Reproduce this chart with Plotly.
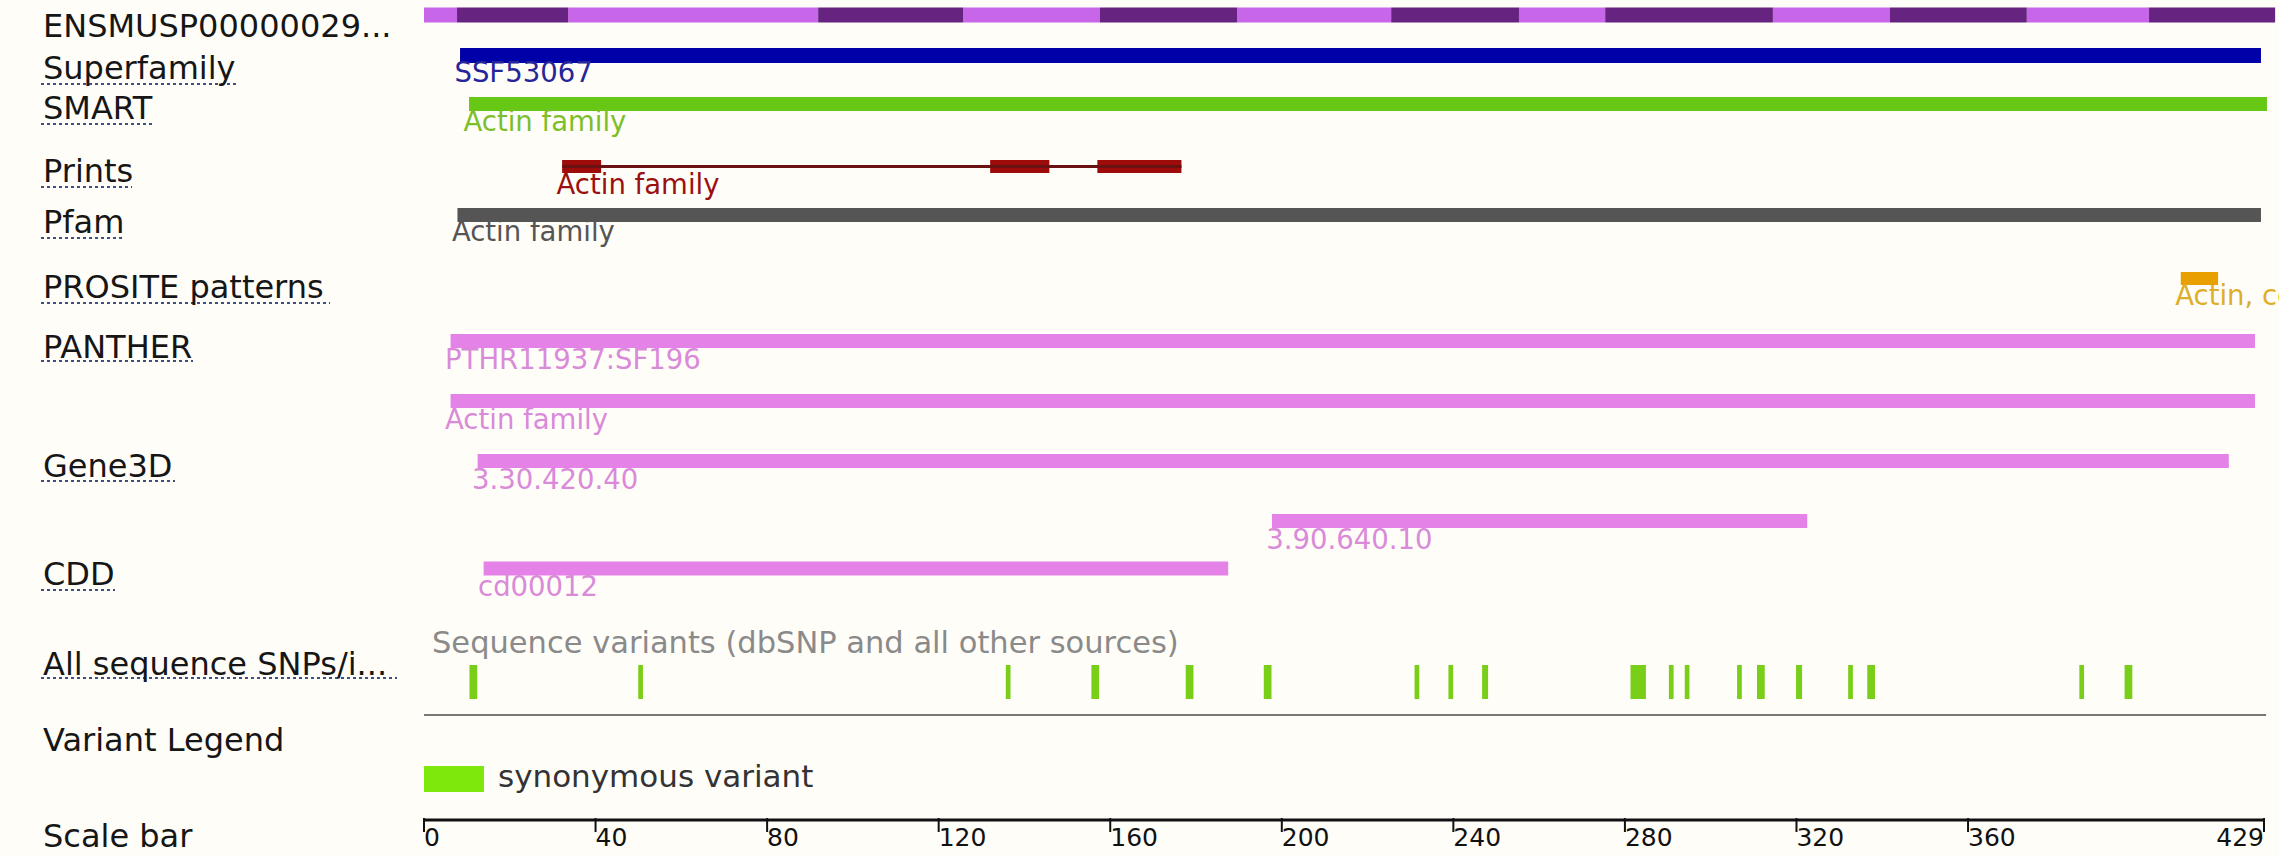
import plotly.graph_objects as go

# ---------------- data (residue coordinates) ----------------
protein_label = "ENSMUSP00000029..."
protein_length = 429
exon_bounds = [0, 7.7, 33.6, 91.9, 125.7, 157.6, 189.6, 225.5, 255.3, 275.4,
               314.5, 341.8, 373.7, 402.2, 431.6]

superfamily_start = [8.4]
superfamily_end = [428.3]
superfamily_names = ["SSF53067"]

smart_start = [10.5]
smart_end = [429.7]
smart_names = ["Actin family"]

prints_start = [32.2, 132.0, 157.0]
prints_end = [41.3, 145.8, 176.6]
prints_names = ["Actin family"]

pfam_start = [7.8]
pfam_end = [428.3]
pfam_names = ["Actin family"]

prosite_start = [409.6]
prosite_end = [418.3]
prosite_names = ["Actin, conserved site"]

panther_start = [6.2, 6.2]
panther_end = [426.9, 426.9]
panther_names = ["PTHR11937:SF196", "Actin family"]

gene3d_start = [12.5, 197.7]
gene3d_end = [420.8, 322.5]
gene3d_names = ["3.30.420.40", "3.90.640.10"]

cdd_start = [13.9]
cdd_end = [187.5]
cdd_names = ["cd00012"]

variant_pos = [11.5, 50.5, 136.2, 156.5, 178.5, 196.7, 231.5, 239.4, 247.4, 283.1,
               290.8, 294.5, 306.7, 311.7, 320.6, 332.6, 337.4, 386.5, 397.4]
variant_width = [1.8, 1.1, 1.1, 1.8, 1.8, 1.8, 1.1, 1.1, 1.4, 3.6,
                 1.1, 1.1, 1.1, 1.8, 1.4, 1.1, 1.8, 1.1, 1.8]

scale_ticks = [0, 40, 80, 120, 160, 200, 240, 280, 320, 360, 429]
scale_labels = [str(t) for t in scale_ticks]

track_labels = ["Superfamily", "SMART", "Prints", "Pfam", "PROSITE patterns",
                "PANTHER", "Gene3D", "CDD", "All sequence SNPs/i..."]

# ---------------- layout constants (pixels) ----------------
W, H = 2279, 857
X0_PX = 424.0
PX_PER_RES = 4.289
BG = "#fffdf8"
FONT = "DejaVu Sans"


def px2x(px):
    return (px - X0_PX) / PX_PER_RES


fig = go.Figure()


def add_bars(starts, ends, yc, thick, color):
    fig.add_trace(go.Bar(
        orientation="h", base=starts, x=[e - s for s, e in zip(starts, ends)],
        y=[yc] * len(starts), width=[thick] * len(starts),
        marker=dict(color=color, line=dict(width=0)), hoverinfo="skip"))


def add_label(xs, ys, texts, color, size=27.5):
    fig.add_trace(go.Scatter(
        x=xs, y=ys, text=texts, mode="text", textposition="middle right",
        textfont=dict(family=FONT, size=size, color=color),
        cliponaxis=True, hoverinfo="skip"))


# protein/exon track
ex_s = exon_bounds[:-1]
ex_e = exon_bounds[1:]
light = [i for i in range(len(ex_s)) if i % 2 == 0]
dark = [i for i in range(len(ex_s)) if i % 2 == 1]
add_bars([ex_s[i] for i in light], [ex_e[i] for i in light], 15, 15, "#c866ea")
add_bars([ex_s[i] for i in dark], [ex_e[i] for i in dark], 15, 15, "#66237f")

# Superfamily
add_bars(superfamily_start, superfamily_end, 55.5, 15, "#0000a8")
add_label([superfamily_start[0] - 1.3], [75], superfamily_names, "#26269a")

# SMART
add_bars(smart_start, smart_end, 104, 14, "#66c814")
add_label([smart_start[0] - 1.3], [124], smart_names, "#7cbf2a")

# Prints (linked blocks)
fig.add_trace(go.Scatter(x=[prints_start[0], prints_end[-1]], y=[166.5, 166.5],
                         mode="lines", line=dict(color="#6a1212", width=3),
                         hoverinfo="skip"))
add_bars(prints_start, prints_end, 166.5, 13, "#9e0b0b")
add_label([prints_start[0] - 1.3], [187], prints_names, "#9a1010")

# Pfam
add_bars(pfam_start, pfam_end, 215, 14, "#555555")
add_label([pfam_start[0] - 1.3], [234], pfam_names, "#555555")

# PROSITE
add_bars(prosite_start, prosite_end, 278.5, 13, "#e8a000")
add_label([prosite_start[0] - 1.3], [298], prosite_names, "#dcae2a")

# PANTHER
add_bars(panther_start[:1], panther_end[:1], 341, 14, "#e582e8")
add_bars(panther_start[1:], panther_end[1:], 401, 14, "#e582e8")
add_label([panther_start[0] - 1.3, panther_start[1] - 1.3], [362, 422],
          panther_names, "#d98ad9")

# Gene3D
add_bars(gene3d_start[:1], gene3d_end[:1], 461, 14, "#e582e8")
add_bars(gene3d_start[1:], gene3d_end[1:], 521, 14, "#e582e8")
add_label([gene3d_start[0] - 1.3, gene3d_start[1] - 1.3], [482, 542],
          gene3d_names, "#d98ad9")

# CDD
add_bars(cdd_start, cdd_end, 568.5, 14, "#e582e8")
add_label([cdd_start[0] - 1.3], [589], cdd_names, "#d98ad9")

# Variants
add_label([px2x(432)], [645], ["Sequence variants (dbSNP and all other sources)"],
          "#8a8a8a", size=30.5)
fig.add_trace(go.Bar(
    orientation="h", base=[p - w / 2 for p, w in zip(variant_pos, variant_width)],
    x=variant_width, y=[682] * len(variant_pos), width=[34] * len(variant_pos),
    marker=dict(color="#79cf18", line=dict(width=0)), hoverinfo="skip"))
fig.add_trace(go.Scatter(x=[0, protein_length + 0.5], y=[715, 715], mode="lines",
                         line=dict(color="#7a7a7a", width=2), hoverinfo="skip"))

# Variant legend
fig.add_shape(type="rect", xref="x", yref="y", x0=px2x(424), x1=px2x(484),
              y0=766, y1=792, fillcolor="#7ee80c", line=dict(width=0))
add_label([px2x(498)], [779], ["synonymous variant"], "#333333", size=31)

# Scale bar
fig.add_trace(go.Scatter(x=[scale_ticks[0], scale_ticks[-1]], y=[820, 820],
                         mode="lines", line=dict(color="#111111", width=3),
                         hoverinfo="skip"))
fig.add_trace(go.Scatter(x=scale_ticks, y=[825] * len(scale_ticks), mode="markers",
                         marker=dict(symbol="line-ns", size=10,
                                     line=dict(color="#111111", width=2)),
                         hoverinfo="skip"))
fig.add_trace(go.Scatter(
    x=scale_ticks, y=[840] * len(scale_ticks), text=scale_labels, mode="text",
    textposition=["middle right"] * (len(scale_ticks) - 1) + ["middle left"],
    textfont=dict(family=FONT, size=25, color="#111111"), cliponaxis=False,
    hoverinfo="skip"))

# Left-hand track labels
left_y = [68, 108, 171, 222, 287, 347, 466, 574, 664]
underline_y = [84, 124, 187, 238, 303, 361, 481, 590, 678]
underline_end = [236, 155, 132, 124, 330, 193, 175, 115, 397]
annos = [dict(x=px2x(41), y=26, text=protein_label)]
for t, yy in zip(track_labels, left_y):
    annos.append(dict(x=px2x(41), y=yy, text=t))
annos.append(dict(x=px2x(41), y=740, text="Variant Legend"))
annos.append(dict(x=px2x(41), y=836, text="Scale bar"))
for a in annos:
    a.update(xref="x", yref="y", xanchor="left", yanchor="middle", showarrow=False,
             font=dict(family=FONT, size=32, color="#161616"))
    fig.add_annotation(**a)
for yy, xe in zip(underline_y, underline_end):
    fig.add_shape(type="line", xref="x", yref="y", x0=px2x(41), x1=px2x(xe),
                  y0=yy, y1=yy, line=dict(color="#3e4f80", width=2, dash="dot"))

fig.update_layout(
    width=W, height=H, margin=dict(l=0, r=0, t=0, b=0),
    paper_bgcolor=BG, plot_bgcolor=BG, showlegend=False, barmode="overlay",
    xaxis=dict(range=[px2x(0), px2x(W)], visible=False, fixedrange=True),
    yaxis=dict(range=[H, 0], visible=False, fixedrange=True),
)

fig.write_html(
    "out.html",
    config={"displayModeBar": False},
    post_script="document.body.style.margin='0px';"
                "document.body.style.overflow='hidden';"
                "document.body.style.background='" + BG + "';",
)
